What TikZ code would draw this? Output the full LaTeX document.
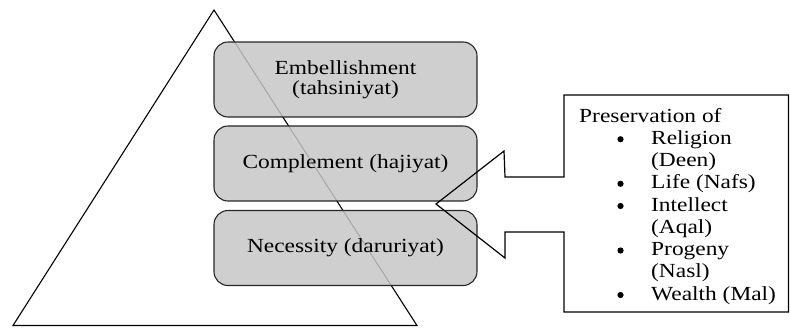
\documentclass[tikz,border=0pt]{standalone}
\usepackage{fontspec}
\setmainfont{Liberation Serif}[FakeStretch=1.17]
\usepackage{array}
\begin{document}
\begin{tikzpicture}[x=1pt,y=-1pt,
  tier/.style={draw=black!85, line width=1.1pt, rounded corners=14pt,
    fill=black!22, fill opacity=0.85, text opacity=1,
    minimum width=263pt, minimum height=75pt, align=center,
    font=\fontsize{20}{20}\selectfont, inner sep=0pt},
  outline/.style={draw=black, line width=1.2pt, line join=miter},
  pyr/.style={draw=black, line width=1.1pt},
  dot/.style={fill=black}]
\useasboundingbox (0,0) rectangle (790,327);
% pyramid
\coordinate (apex) at (214,10);
\coordinate (bl) at (13,325.5);
\coordinate (br) at (417,325.5);
\draw[pyr] (apex) -- (br) -- (bl) -- cycle;
% tiers
\node[tier] (emb) at (345.5,79.5) {Embellishment\\(tahsiniyat)};
\node[tier] (comp) at (345.5,163.5) {Complement (hajiyat)};
\node[tier] (nec) at (345.5,248) {Necessity (daruriyat)};
% callout outline
\coordinate (tip) at (436,204);
\draw[outline] (564,95) -- (788.5,95) -- (788.5,312) -- (564,312) -- (564,232)
  -- (505,232) -- (505,258) -- (tip) -- (504,151) -- (505,177) -- (564,177) -- cycle;
% list text
\node[anchor=north west, inner sep=0pt, font=\fontsize{20}{22.25}\selectfont] (list) at (579,106.4) {%
  \renewcommand\arraystretch{1}%
  \setlength\extrarowheight{0pt}%
  \begin{tabular}{@{}p{72pt}@{}l@{}}
  \multicolumn{2}{@{}l}{Preservation of}\\
   & Religion\\
   & (Deen)\\
   & Life (Nafs)\\
   & Intellect\\
   & (Aqal)\\
   & Progeny\\
   & (Nasl)\\
   & Wealth (Mal)
  \end{tabular}};
% bullets
\foreach \k in {1,3,4,6,8}
  \fill[dot] (620.5,{122+22.25*\k-5}) circle (3.1);
\end{tikzpicture}
\end{document}
